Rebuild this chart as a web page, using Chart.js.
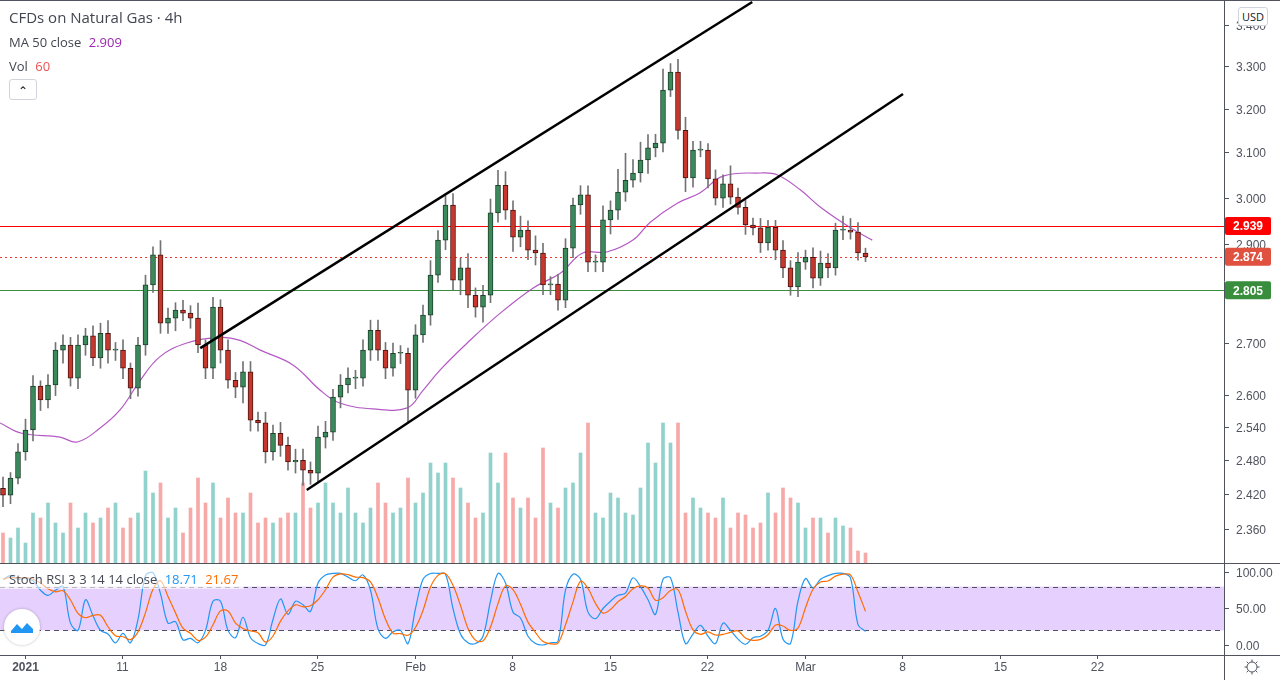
<!DOCTYPE html>
<html><head><meta charset="utf-8">
<script src="https://cdn.jsdelivr.net/npm/chart.js@4"></script>
<style>
html,body{margin:0;padding:0;background:#fff;width:1280px;height:680px;overflow:hidden;font-family:"Open Sans","Liberation Sans",sans-serif}
#c1{position:absolute;left:0;top:0}
#c2{position:absolute;left:0;top:563px}
.lg{position:absolute;left:9px;color:#434651;font-size:13px;white-space:nowrap}
#btn{position:absolute;left:9px;top:79px;width:26px;height:19px;border:1px solid #d1d4dc;border-radius:3px;background:#fff;font-size:12px;text-align:center;line-height:21px;color:#131722}
#usd{position:absolute;left:1238px;top:7px;width:28px;height:17px;border:1px solid #d1d4dc;border-radius:3px;background:#fff;font-size:11px;text-align:center;line-height:17px;color:#131722}
#stl{position:absolute;left:0;top:569px;padding:1px 6px 1px 9px;background:rgba(255,255,255,0.6);font-size:13px;color:#434651;white-space:nowrap}
#ico{position:absolute;left:4px;top:609px;width:36px;height:36px;border-radius:50%;background:#fff;box-shadow:0 0 3px rgba(0,0,0,0.25)}
</style></head><body>
<canvas id="c1" width="1280" height="563"></canvas>
<canvas id="c2" width="1280" height="117"></canvas>
<div class="lg" style="top:7px;font-size:15px">CFDs on Natural Gas · 4h</div>
<div class="lg" style="top:33px">MA 50 close <span style="color:#9c27b0;margin-left:4px">2.909</span></div>
<div class="lg" style="top:57px">Vol <span style="color:#ef5350;margin-left:4px">60</span></div>
<div id="btn">&#8963;</div>
<div id="usd">USD</div>
<div id="stl">Stoch RSI 3 3 14 14 close <span style="color:#2196f3;margin-left:4px">18.71</span> <span style="color:#ff6d00;margin-left:4px">21.67</span></div>
<div id="ico"><svg width="36" height="36"><path d="M7 22 L13 15 L18 20 L23 14 L29 20 L29 24 L7 24 Z" fill="#2196f3"/></svg></div>
<script>
// ---- data ----
const closes = [2.418,2.448,2.495,2.535,2.617,2.591,2.619,2.686,2.696,2.632,
2.696,2.714,2.671,2.719,2.686,2.686,2.651,2.613,2.696,2.816,
2.878,2.739,2.749,2.765,2.759,2.749,2.696,2.651,2.771,2.686,
2.628,2.615,2.644,2.553,2.548,2.495,2.529,2.507,2.477,2.480,
2.462,2.457,2.522,2.531,2.596,2.619,2.632,2.632,2.686,2.725,
2.686,2.651,2.680,2.680,2.609,2.716,2.755,2.836,2.909,2.984,
2.826,2.851,2.795,2.771,2.795,2.967,3.027,2.973,2.915,2.930,
2.888,2.882,2.816,2.818,2.785,2.892,2.984,3.006,2.863,2.863,
2.952,2.973,3.012,3.038,3.054,3.083,3.110,3.121,3.243,3.286,
3.150,3.043,3.105,3.105,3.041,2.999,3.030,3.001,2.979,2.941,
2.935,2.903,2.936,2.888,2.851,2.812,2.863,2.873,2.830,2.861,
2.851,2.930,2.930,2.926,2.882,2.874];
const firstOpen = 2.430;
const wickUp = [0.02,0.01,0.015,0.02,0.02,0.01,0.02,0.015,0.02,0.015,
0.02,0.015,0.02,0.02,0.025,0.015,0.02,0.01,0.015,0.02,
0.017,0.03,0.02,0.015,0.02,0.015,0.03,0.01,0.02,0.015,
0.02,0.015,0.02,0.02,0.015,0.02,0.015,0.02,0.015,0.02,
0.02,0.015,0.02,0.02,0.015,0.02,0.02,0.015,0.02,0.02,
0.02,0.015,0.02,0.015,0.01,0.02,0.02,0.03,0.02,0.02,
0.025,0.02,0.03,0.015,0.02,0.03,0.033,0.03,0.02,0.03,
0.02,0.03,0.02,0.015,0.02,0.02,0.015,0.02,0.02,0.015,
0.03,0.02,0.05,0.06,0.03,0.04,0.03,0.02,0.05,0.02,
0.03,0.03,0.02,0.02,0.015,0.02,0.02,0.04,0.02,0.015,
0.015,0.02,0.015,0.015,0.02,0.015,0.02,0.015,0.02,0.025,
0.02,0.015,0.03,0.025,0.02,0.01];
const wickDown = [0.02,0.015,0.01,0.015,0.02,0.02,0.015,0.02,0.025,0.015,
0.02,0.02,0.015,0.02,0.025,0.02,0.02,0.02,0.015,0.02,
0.015,0.02,0.02,0.025,0.015,0.02,0.015,0.02,0.02,0.025,
0.015,0.02,0.03,0.02,0.015,0.02,0.015,0.02,0.015,0.02,
0.027,0.02,0.015,0.02,0.015,0.02,0.015,0.02,0.015,0.02,
0.02,0.02,0.015,0.02,0.06,0.015,0.015,0.02,0.015,0.02,
0.02,0.03,0.025,0.02,0.03,0.015,0.02,0.02,0.03,0.02,
0.02,0.025,0.02,0.02,0.02,0.015,0.02,0.02,0.02,0.02,
0.02,0.03,0.02,0.02,0.015,0.02,0.03,0.02,0.02,0.015,
0.02,0.03,0.02,0.015,0.02,0.015,0.02,0.015,0.015,0.02,
0.015,0.02,0.015,0.02,0.02,0.017,0.02,0.015,0.02,0.015,
0.02,0.015,0.02,0.015,0.015,0.01];
const volumes = [30,25,35,20,50,45,60,40,30,60,35,50,40,45,55,60,35,45,50,92,
70,80,45,55,30,55,85,60,80,45,65,50,50,70,40,45,40,45,50,50,
80,55,60,80,60,50,75,50,40,55,80,60,50,55,85,60,70,100,90,100,
85,75,60,45,50,110,80,110,65,55,65,45,115,60,55,75,80,110,140,50,
45,70,65,50,48,75,120,100,140,120,140,50,65,55,50,45,65,35,50,48,
35,40,70,50,75,65,60,35,45,45,30,45,37,35,12,10];
const maIdx =  [-0.4,2.5,7.6,9.9,12.9,15.6,18.3,20.9,24.5,28.9,31.6,34.3,38.7,42.3,44.9,49.3,53.9,56,58.3,61.9,66.3,70.7,74.3,77.3,80.5,84,86.3,89.9,92.9,96,101,103.2,106.3,109,113,115.9];
const maVal =  [2.548,2.529,2.522,2.513,2.538,2.572,2.628,2.673,2.700,2.711,2.705,2.686,2.657,2.609,2.585,2.574,2.576,2.609,2.648,2.700,2.759,2.810,2.840,2.882,2.884,2.909,2.947,2.988,3.010,3.047,3.054,3.050,3.017,2.979,2.935,2.909];
const stochK = [90,95,90,92,88,75,68,75,80,30,20,62,40,20,15,3,16,3,35,95,
99,70,30,32,7,9,3,20,60,60,20,10,38,10,2,0,35,63,42,60,
55,46,85,96,98,98,93,88,96,75,22,9,18,20,2,50,90,98,98,97,
50,15,3,2,12,60,98,85,45,37,12,2,0,3,5,75,97,90,45,36,
50,60,68,71,92,80,62,42,90,92,45,2,15,27,12,2,30,20,8,1,
10,12,20,50,8,2,60,91,78,90,95,98,98,92,28,18.71];
const stochLegend = [18.71, 21.67];
const channelUpper = [[26.3,2.690],[99.9,3.457]];
const channelLower = [[40.5,2.427],[120,3.234]];
const levels = [2.939, 2.874, 2.805];
const priceTicks = [2.360,2.420,2.480,2.540,2.600,2.700,2.800,2.900,3.000,3.100,3.200,3.300,3.400];
const stochTicks = [100,50,0];
const timeTickIdx = [2.9,15.9,28.9,41.9,54.9,67.9,80.9,93.9,106.9,119.9,132.9,145.9];
const timeTickLbl = ["2021","11","18","25","Feb","8","15","22","Mar","8","15","22"];

// ---- derived ----
const opens = closes.map((c,i)=> i===0 ? firstOpen : closes[i-1]);
const up = closes.map((c,i)=> c>=opens[i]);
const highs = closes.map((c,i)=> Math.max(c,opens[i])+wickUp[i]);
const lows  = closes.map((c,i)=> Math.min(c,opens[i])-wickDown[i]);
const stochD = stochK.map((v,i)=>{const a=stochK.slice(Math.max(0,i-2),i+1);return a.reduce((s,x)=>s+x,0)/a.length;});

const XMIN=-0.4, XMAX=162.8, FONT='12px "Liberation Sans", Arial, sans-serif';

const pricePlugin = {
  id:'pricePlugin',
  beforeDatasetsDraw(ch){
    const c=ch.ctx, y=ch.scales.y, a=ch.chartArea;
    c.save();
    levels.forEach((v,k)=>{
      const py=Math.round(y.getPixelForValue(v))+0.5;
      c.beginPath();c.lineWidth=1;
      c.strokeStyle= k===0?'#ff0000':(k===1?'#ef3b2c':'#388e3c');
      c.setLineDash(k===1?[2,3]:[]);
      c.moveTo(0,py);c.lineTo(a.right,py);c.stroke();
    });
    c.restore();
  },
  afterDraw(ch){
    const c=ch.ctx, y=ch.scales.y, a=ch.chartArea;
    c.save();
    c.fillStyle='#fff';c.fillRect(a.right+1,0,56,563);
    c.strokeStyle='#50535e';c.lineWidth=1;
    c.beginPath();c.moveTo(a.right+0.5,0);c.lineTo(a.right+0.5,563);c.stroke();
    c.beginPath();c.moveTo(0,0.5);c.lineTo(1280,0.5);c.stroke();
    c.font=FONT;c.fillStyle='#50535e';c.textBaseline='middle';c.textAlign='left';
    priceTicks.forEach(v=>{
      const py=Math.round(y.getPixelForValue(v))+0.5;
      c.beginPath();c.moveTo(a.right,py);c.lineTo(a.right+5,py);c.stroke();
      c.fillText(v.toFixed(3),a.right+12,py+1);
    });
    const cols=['#ff0000','#e0513f','#388e3c'];
    levels.forEach((v,k)=>{
      const py=y.getPixelForValue(v);
      c.fillStyle=cols[k];
      c.beginPath();c.roundRect(a.right+1,py-9,46,18,2);c.fill();
      c.fillStyle='#fff';c.font='bold 12px "Liberation Sans", Arial, sans-serif';
      c.fillText(v.toFixed(3),a.right+9,py+1);
    });
    c.restore();
  }
};

new Chart(document.getElementById('c1'),{
  data:{datasets:[
    {type:'bar',order:10,yAxisID:'yv',grouped:false,barThickness:3,
     data:volumes.map((v,i)=>({x:i,y:v})),
     backgroundColor:up.map(u=>u?'rgba(38,166,154,0.5)':'rgba(239,83,80,0.5)')},
    {type:'line',order:5,yAxisID:'y',data:maIdx.map((x,i)=>({x,y:maVal[i]})),
     borderColor:'rgba(171,71,188,0.9)',borderWidth:1.2,pointRadius:0,tension:0.4},
    {type:'bar',order:4,yAxisID:'y',grouped:false,barThickness:1,
     data:closes.map((c,i)=>({x:i,y:[lows[i],highs[i]]})),backgroundColor:'#737375'},
    {type:'bar',order:3,yAxisID:'y',grouped:false,barThickness:5,minBarLength:1,
     data:closes.map((c,i)=>({x:i,y:[opens[i],c]})),
     backgroundColor:up.map(u=>u?'#3a8a5c':'#c8372d'),
     borderColor:up.map(u=>u?'#1e3f2b':'#4a1510'),borderWidth:1,borderSkipped:false},
    {type:'line',order:1,yAxisID:'y',data:channelUpper.map(p=>({x:p[0],y:p[1]})),
     borderColor:'#000',borderWidth:2.5,pointRadius:0},
    {type:'line',order:1,yAxisID:'y',data:channelLower.map(p=>({x:p[0],y:p[1]})),
     borderColor:'#000',borderWidth:2.5,pointRadius:0}
  ]},
  options:{responsive:false,animation:false,events:[],
    layout:{padding:{right:56,left:0,top:0,bottom:0}},
    plugins:{legend:{display:false},tooltip:{enabled:false}},
    scales:{
      x:{type:'linear',min:XMIN,max:XMAX,offset:false,display:false},
      y:{type:'logarithmic',min:2.302,max:3.462,display:false},
      yv:{type:'linear',min:0,max:563,display:false}
    }},
  plugins:[pricePlugin]
});

const stochPlugin = {
  id:'stochPlugin',
  beforeDatasetsDraw(ch){
    const c=ch.ctx,y=ch.scales.y,a=ch.chartArea;
    const y80=y.getPixelForValue(80), y20=y.getPixelForValue(20);
    c.save();
    c.fillStyle='rgba(200,150,250,0.45)';
    c.fillRect(0,y80,a.right,y20-y80);
    c.strokeStyle='#50535e';c.setLineDash([5,4]);c.lineWidth=1;
    [y80,y20].forEach(p=>{c.beginPath();c.moveTo(0,Math.round(p)+0.5);c.lineTo(a.right,Math.round(p)+0.5);c.stroke();});
    c.restore();
  },
  afterDraw(ch){
    const c=ch.ctx,y=ch.scales.y,x=ch.scales.x,a=ch.chartArea;
    c.save();
    c.strokeStyle='#50535e';c.lineWidth=1;
    c.beginPath();c.moveTo(0,0.5);c.lineTo(1280,0.5);c.stroke();
    c.beginPath();c.moveTo(0,a.bottom+0.5);c.lineTo(1280,a.bottom+0.5);c.stroke();
    c.beginPath();c.moveTo(a.right+0.5,0);c.lineTo(a.right+0.5,117);c.stroke();
    c.font=FONT;c.fillStyle='#50535e';c.textBaseline='middle';c.textAlign='left';
    stochTicks.forEach(v=>{
      const p=Math.round(y.getPixelForValue(v))+0.5;
      c.beginPath();c.moveTo(a.right,p);c.lineTo(a.right+5,p);c.stroke();
      c.fillText(v.toFixed(2),a.right+12,p+1);
    });
    c.textAlign='center';
    timeTickIdx.forEach((t,k)=>{
      const px=Math.round(x.getPixelForValue(t))+0.5;
      c.beginPath();c.moveTo(px,a.bottom);c.lineTo(px,a.bottom+4);c.stroke();
      c.font=(k===0?'bold ':'')+FONT;
      c.fillText(timeTickLbl[k],px,a.bottom+13);
    });
    c.beginPath();c.arc(1252,104,5,0,Math.PI*2);c.stroke();
    for(let k=0;k<8;k++){const an=k*Math.PI/4;c.beginPath();c.moveTo(1252+Math.cos(an)*5,104+Math.sin(an)*5);c.lineTo(1252+Math.cos(an)*7.5,104+Math.sin(an)*7.5);c.stroke();}
    c.restore();
  }
};

new Chart(document.getElementById('c2'),{
  type:'line',
  data:{datasets:[
    {data:stochD.map((v,i)=>({x:i,y:v})),borderColor:'#ff6d00',borderWidth:1.2,pointRadius:0,tension:0.35},
    {data:stochK.map((v,i)=>({x:i,y:v})),borderColor:'#2196f3',borderWidth:1.2,pointRadius:0,tension:0.35}
  ]},
  options:{responsive:false,animation:false,events:[],
    layout:{padding:{right:56,left:0,top:0,bottom:25}},
    plugins:{legend:{display:false},tooltip:{enabled:false}},
    scales:{
      x:{type:'linear',min:XMIN,max:XMAX,offset:false,display:false},
      y:{type:'linear',min:-13.7,max:112.3,display:false}
    }},
  plugins:[stochPlugin]
});
</script>
</body></html>
